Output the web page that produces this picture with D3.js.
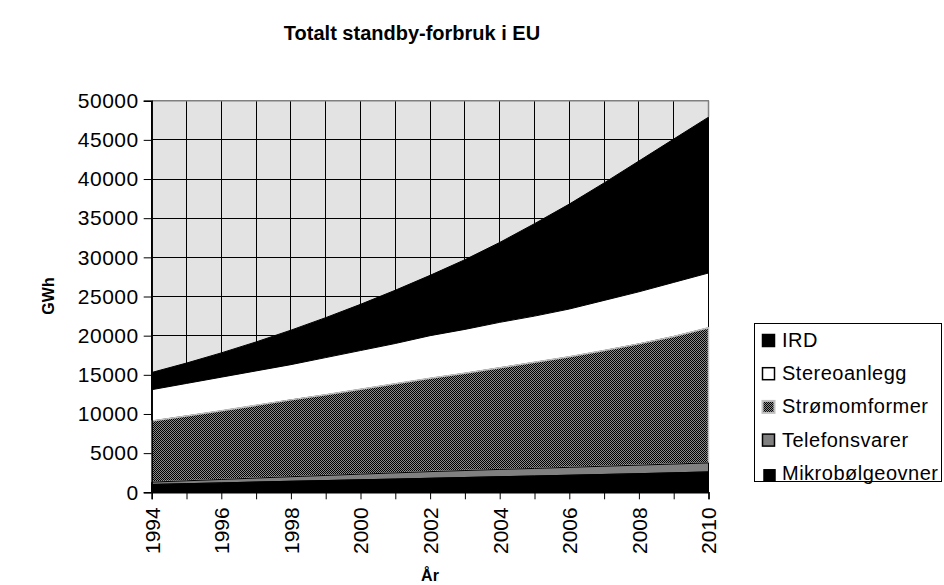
<!DOCTYPE html>
<html>
<head>
<meta charset="utf-8">
<script src="https://cdn.jsdelivr.net/npm/d3@7"></script>
<style>
  html, body { margin: 0; padding: 0; background: #fff; }
  svg { display: block; font-family: Arial, "Liberation Sans", sans-serif; }
</style>
</head>
<body>
<svg id="chart" width="944" height="585"></svg>
<script>
// ---- data ----
const years = [1994,1995,1996,1997,1998,1999,2000,2001,2002,2003,2004,2005,2006,2007,2008,2009,2010];
const mikrobolgeovner = [1000,1100,1200,1310,1410,1500,1600,1690,1790,1890,1990,2080,2180,2280,2380,2490,2600];
const telefonsvarer   = [300,370,440,510,580,650,720,790,850,890,930,970,1010,1050,1090,1120,1150];
const stromomformer   = [7800,8280,8760,9280,9810,10300,10830,11370,11910,12420,12980,13550,14110,14770,15480,16290,17250];
const stereoanlegg    = [4000,4150,4300,4400,4500,4750,4950,5150,5450,5600,5800,5900,6100,6400,6650,6900,7000];
const ird             = [2200,2600,3100,3700,4400,5100,5900,6800,7700,8900,10200,11800,13400,15000,16700,18300,19900];
const seriesNames = ["Mikrobølgeovner","Telefonsvarer","Strømomformer","Stereoanlegg","IRD"];
const yTicks = [0,5000,10000,15000,20000,25000,30000,35000,40000,45000,50000];
const xLabelYears = [1994,1996,1998,2000,2002,2004,2006,2008,2010];
const titleText = "Totalt standby-forbruk i EU";
const xTitle = "År";
const yTitle = "GWh";

// ---- build table ----
const seriesValues = [mikrobolgeovner, telefonsvarer, stromomformer, stereoanlegg, ird];
const table = years.map((yr, i) => {
  const row = { year: yr };
  seriesNames.forEach((n, k) => row[n] = seriesValues[k][i]);
  return row;
});

const svg = d3.select("#chart");
const plot = { left: 151.7, right: 708.5, top: 100.7, bottom: 492.3 };
const FONT = "Arial, 'Liberation Sans', sans-serif";

const x = d3.scaleLinear().domain([1994, 2010]).range([plot.left, plot.right]);
const y = d3.scaleLinear().domain([0, 50000]).range([plot.bottom, plot.top]);

// pattern for Strømomformer
const defs = svg.append("defs");
const pat = defs.append("pattern").attr("id", "checker")
  .attr("patternUnits", "userSpaceOnUse").attr("width", 2).attr("height", 2);
pat.append("rect").attr("width", 2).attr("height", 2).attr("fill", "#8c8c8c");
pat.append("rect").attr("x", 0).attr("y", 0).attr("width", 1).attr("height", 1).attr("fill", "#000");
pat.append("rect").attr("x", 1).attr("y", 1).attr("width", 1).attr("height", 1).attr("fill", "#000");

const styles = {
  "Mikrobølgeovner": { fill: "#000", stroke: "#000", sw: 1 },
  "Telefonsvarer":   { fill: "#808080", stroke: "#000", sw: 1 },
  "Strømomformer":   { fill: "url(#checker)", stroke: "#c0c0c0", sw: 1.5 },
  "Stereoanlegg":    { fill: "#fff", stroke: "#000", sw: 1 },
  "IRD":             { fill: "#000", stroke: "#000", sw: 1 }
};

// plot background
svg.append("rect")
  .attr("x", plot.left).attr("y", plot.top)
  .attr("width", plot.right - plot.left).attr("height", plot.bottom - plot.top)
  .attr("fill", "#e3e3e3");

// grid
const grid = svg.append("g").attr("stroke", "#000").attr("stroke-width", 1).attr("shape-rendering", "crispEdges");
years.forEach(yr => {
  grid.append("line").attr("x1", x(yr)).attr("x2", x(yr)).attr("y1", plot.top).attr("y2", plot.bottom);
});
yTicks.forEach(v => {
  grid.append("line").attr("x1", plot.left).attr("x2", plot.right).attr("y1", y(v)).attr("y2", y(v));
});

// stacked areas
const stack = d3.stack().keys(seriesNames);
const stacked = stack(table);
const area = d3.area()
  .x(d => x(d.data.year))
  .y0(d => y(d[0]))
  .y1(d => y(d[1]));

svg.append("g").selectAll("path")
  .data(stacked.slice().reverse())
  .join("path")
  .attr("d", area)
  .attr("fill", d => styles[d.key].fill)
  .attr("stroke", d => styles[d.key].stroke)
  .attr("stroke-width", d => styles[d.key].sw)
  .attr("stroke-linejoin", "miter");

// plot border (top / right in gray)
svg.append("line").attr("x1", plot.left).attr("x2", plot.right + 0.5)
  .attr("y1", plot.top).attr("y2", plot.top).attr("stroke", "#808080").attr("stroke-width", 1.5);
svg.append("line").attr("x1", plot.right).attr("x2", plot.right)
  .attr("y1", plot.top).attr("y2", y(d3.sum(seriesValues, s => s[s.length-1]))).attr("stroke", "#808080").attr("stroke-width", 1.5);

// y axis
const yAxis = d3.axisLeft(y).tickValues(yTicks).tickSize(8).tickPadding(5).tickFormat(d3.format("d"));
const gy = svg.append("g").attr("transform", `translate(${plot.left},0)`).call(yAxis);
gy.select(".domain").attr("stroke", "#000").attr("stroke-width", 1.5);
gy.selectAll(".tick line").attr("stroke", "#000");
gy.selectAll(".tick text").attr("font-size", 21).attr("fill", "#000")
  .style("font-family", FONT).style("letter-spacing", "0.5px");

// x axis
const xAxis = d3.axisBottom(x).tickValues(years).tickSize(7).tickFormat(d => xLabelYears.includes(d) ? d : "");
const gx = svg.append("g").attr("transform", `translate(0,${plot.bottom})`).call(xAxis);
gx.select(".domain").attr("stroke", "#000").attr("stroke-width", 1.5);
gx.selectAll(".tick line").attr("stroke", "#000");
gx.selectAll(".tick text")
  .attr("font-size", 21).attr("fill", "#000")
  .style("font-family", FONT)
  .attr("text-anchor", "end")
  .attr("transform", "rotate(-90)")
  .attr("x", -15).attr("y", 0).attr("dy", "0.35em");

// titles
svg.append("text").attr("x", 412).attr("y", 40).attr("text-anchor", "middle")
  .attr("font-size", 20).attr("font-weight", "bold").text(titleText);
svg.append("text").attr("x", 430).attr("y", 581).attr("text-anchor", "middle")
  .attr("font-size", 16).attr("font-weight", "bold").text(xTitle);
svg.append("text").attr("transform", "translate(54,296) rotate(-90)").attr("text-anchor", "middle")
  .attr("font-size", 16).attr("font-weight", "bold").text(yTitle);

// legend
const legend = svg.append("g");
legend.append("rect").attr("x", 754.5).attr("y", 323.5).attr("width", 187).attr("height", 158)
  .attr("fill", "#fff").attr("stroke", "#000").attr("stroke-width", 1);
const legendOrder = seriesNames.slice().reverse();
const rowY0 = 347, rowGap = 33.2;
legendOrder.forEach((name, i) => {
  const by = rowY0 + i * rowGap;
  const st = styles[name];
  const small = name === "Mikrobølgeovner";
  const sz = small ? 11 : 12;
  const sx = small ? 764 : 762.5;
  const sy = small ? by - 10 : by - 12.5;
  legend.append("rect").attr("x", sx).attr("y", sy).attr("width", sz).attr("height", sz)
    .attr("fill", st.fill).attr("stroke", st.stroke).attr("stroke-width", name === "Strømomformer" ? 2 : 1.5);
  legend.append("text").attr("x", 782).attr("y", by).attr("font-size", 20).attr("fill", "#000")
    .style("letter-spacing", "0.5px").text(name);
});
</script>
</body>
</html>
